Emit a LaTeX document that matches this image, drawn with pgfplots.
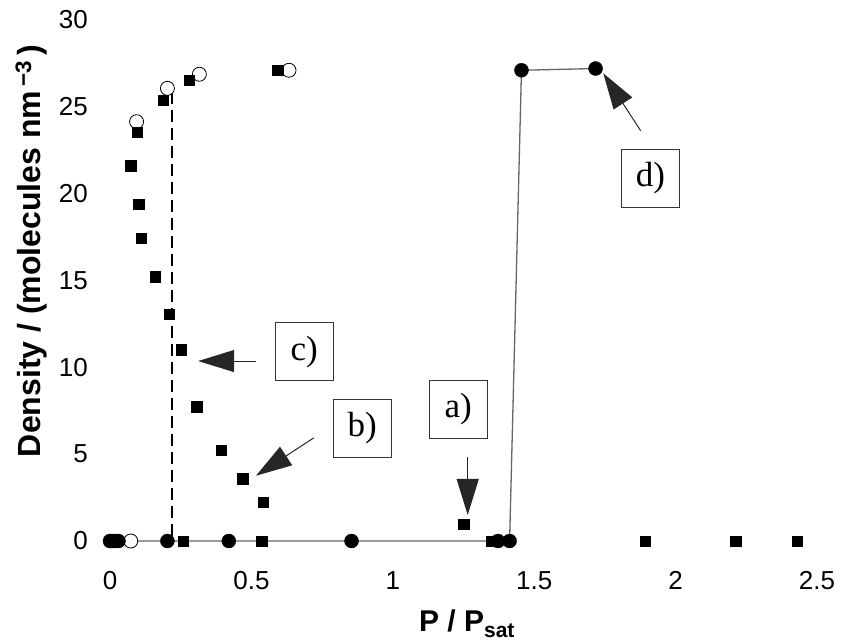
\documentclass[border=0pt]{standalone}
\usepackage{pgfplots}
\pgfplotsset{compat=1.18}
\usepackage{fontspec}
\setmainfont{Liberation Sans}
\newfontfamily\boxfont{Liberation Serif}
\usetikzlibrary{arrows.meta}
\begin{document}
\begin{tikzpicture}
\begin{axis}[
  x=282.8pt, y=17.37pt,
  xmin=-0.0778, xmax=2.55,
  ymin=-1.727, ymax=30,
  clip=false,
  axis line style={draw=none},
  tick style={draw=none},
  xtick={0,0.5,1,1.5,2,2.5},
  ytick={0,5,10,15,20,25,30},
  /pgf/number format/assume math mode=true,
  tick label style={font=\fontsize{26}{30}\selectfont},
  xticklabel style={inner sep=0pt, anchor=north},
  yticklabel style={inner sep=0pt, anchor=east},
  xlabel={P / P\textsubscript{sat}},
  ylabel={Density / (molecules nm\textsuperscript{\,−3}\,)},
  xlabel style={font=\fontsize{30}{34}\selectfont\bfseries, at={(rel axis cs:0.51,-0.1106)}, anchor=base},
  ylabel style={font=\fontsize{32}{36}\selectfont\bfseries, at={(rel axis cs:-0.0766,0.5807)}, anchor=center},
]
% line of the filled-circle series
\addplot[color=black!60, line width=1.3pt, mark=none] coordinates {
 (0,0) (0.005,0) (0.012,0) (0.02,0) (0.03,0) (0.203,0) (0.42,0) (0.854,0) (1.372,0) (1.413,0) (1.455,27.1) (1.717,27.2)};
% dashed vertical line
\addplot[black, line width=2pt, dash pattern=on 12pt off 6pt] coordinates {(0.221,25.85) (0.221,0)};
% open circles
\addplot[only marks, mark=*, mark size=7pt, mark options={fill=white, draw=black, line width=0.8pt}] coordinates {
 (0.0735,0) (0.094,24.14) (0.203,26.06) (0.316,26.87) (0.633,27.1)};
% filled squares
\addplot[only marks, mark=square*, mark size=5.25pt, mark options={fill=black, draw=black}] coordinates {
 (0.074,21.6) (0.097,23.53) (0.102,19.4) (0.111,17.43) (0.16,15.22) (0.188,25.39) (0.21,13.05)
 (0.251,11.0) (0.28,26.54) (0.307,7.73) (0.393,5.24) (0.47,3.59) (0.541,2.23) (0.593,27.1)
 (0.259,0) (0.536,0) (1.251,0.98) (1.349,0) (1.893,0) (2.212,0) (2.43,0)};
% filled circles
\addplot[only marks, mark=*, mark size=7pt, mark options={fill=black, draw=black}] coordinates {
 (0,0) (0.005,0) (0.012,0) (0.02,0) (0.03,0) (0.203,0) (0.42,0) (0.854,0) (1.372,0) (1.413,0) (1.455,27.1) (1.717,27.2)};
% annotations
\tikzset{lab/.style={draw=black!80, line width=0.9pt, minimum width=58pt, minimum height=58pt, inner sep=0pt, font=\boxfont\fontsize{35}{38}\selectfont},
         arr/.style={draw=black!85, line width=1pt, -{Triangle[length=36pt,width=22pt]}}}
\node[lab] at (axis cs:1.2316,7.571) {a)};
\node[lab] at (axis cs:0.8918,6.488) {b)};
\node[lab] at (axis cs:0.6865,10.90) {c)};
\node[lab] at (axis cs:1.9112,20.878) {d)};
\draw[arr] (axis cs:1.2649,4.819) -- (axis cs:1.2649,1.497);
\draw[arr] (axis cs:0.7214,5.947) -- (axis cs:0.5163,3.759);
\draw[arr] (axis cs:0.5163,10.36) -- (axis cs:0.3119,10.36);
\draw[arr] (axis cs:1.8765,23.621) -- (axis cs:1.7443,26.926);
\coordinate (BL) at (axis cs:-0.38897,-5.7571);
\coordinate (TR) at (axis cs:2.58840,31.1457);
\end{axis}
\pgfresetboundingbox
\path (BL) rectangle (TR);
\end{tikzpicture}
\end{document}
